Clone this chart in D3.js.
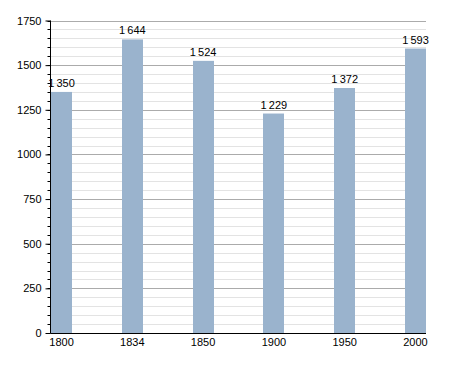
<!DOCTYPE html>
<html>
<head>
<meta charset="utf-8">
<script src="https://cdn.jsdelivr.net/npm/d3@7"></script>
<style>
  html, body { margin: 0; padding: 0; background: #fff; }
  text { font-family: "Liberation Sans", Arial, sans-serif; fill: #000; }
</style>
</head>
<body>
<div id="chart"></div>
<script>
// data
var years = ["1800", "1834", "1850", "1900", "1950", "2000"];
var population = [1350, 1644, 1524, 1229, 1372, 1593];
var yTicks = [0, 250, 500, 750, 1000, 1250, 1500, 1750];

var width = 455,
    height = 373;

var margin = { left: 50.5, right: 29, top: 20.5, bottom: 40 };

var svg = d3.select("#chart").append("svg")
    .attr("width", width)
    .attr("height", height);

var x = d3.scaleBand()
    .domain(years)
    .range([margin.left + 0.5, width - margin.right])
    .paddingInner(0.703)
    .paddingOuter(0);

var y = d3.scaleLinear()
    .domain([0, 1750])
    .range([height - margin.bottom, margin.top]);

var minor = d3.range(0, 1751, 50);

// minor grid
svg.append("g").selectAll("line")
    .data(minor.filter(function(d) { return d % 250 !== 0; }))
    .join("line")
    .attr("x1", margin.left)
    .attr("x2", width - margin.right)
    .attr("y1", function(d) { return Math.round(y(d)) + 0.5; })
    .attr("y2", function(d) { return Math.round(y(d)) + 0.5; })
    .attr("stroke", "#e3e3e3");

// major grid
svg.append("g").selectAll("line")
    .data(yTicks.filter(function(d) { return d > 0; }))
    .join("line")
    .attr("x1", margin.left)
    .attr("x2", width - margin.right)
    .attr("y1", function(d) { return Math.round(y(d)) + 0.5; })
    .attr("y2", function(d) { return Math.round(y(d)) + 0.5; })
    .attr("stroke", "#ababab");

// bars
svg.append("g").selectAll("rect")
    .data(population)
    .join("rect")
    .attr("x", function(d, i) { return Math.round(x(years[i])); })
    .attr("width", Math.round(x.bandwidth()))
    .attr("y", function(d) { return y(d); })
    .attr("height", function(d) { return y(0) - y(d); })
    .attr("fill", "#9ab3cd");

// value labels
var fmt = function(d) { return d3.format(",")(d).replace(",", "\u2009"); };
svg.append("g").selectAll("text")
    .data(population)
    .join("text")
    .attr("x", function(d, i) { return x(years[i]) + x.bandwidth() / 2; })
    .attr("y", function(d) { return y(d) - 5; })
    .attr("text-anchor", "middle")
    .attr("font-size", 11)
    .text(fmt);

// y axis
var yAxis = svg.append("g")
    .attr("transform", "translate(" + margin.left + ",0)");

yAxis.selectAll(".minor")
    .data(minor)
    .join("line")
    .attr("x1", -3)
    .attr("x2", 0)
    .attr("y1", function(d) { return Math.round(y(d)) + 0.5; })
    .attr("y2", function(d) { return Math.round(y(d)) + 0.5; })
    .attr("stroke", "#000");

yAxis.call(d3.axisLeft(y).tickValues(yTicks).tickSize(5).tickPadding(4).tickFormat(d3.format("d")))
    .call(function(g) {
        g.select(".domain").remove();
        g.selectAll("text").attr("font-size", 11).attr("font-family", "Liberation Sans, Arial, sans-serif");
    });

yAxis.append("line")
    .attr("x1", 0).attr("x2", 0)
    .attr("y1", y(1750)).attr("y2", y(0))
    .attr("stroke", "#000");

// x axis
var xAxis = svg.append("g")
    .attr("transform", "translate(0," + (Math.round(y(0)) + 0.5) + ")");

xAxis.call(d3.axisBottom(x).tickSize(0).tickPadding(5))
    .call(function(g) {
        g.select(".domain").remove();
        g.selectAll("text").attr("font-size", 11).attr("font-family", "Liberation Sans, Arial, sans-serif");
    });

xAxis.append("line")
    .attr("x1", margin.left).attr("x2", width - margin.right)
    .attr("stroke", "#000");
</script>
</body>
</html>
